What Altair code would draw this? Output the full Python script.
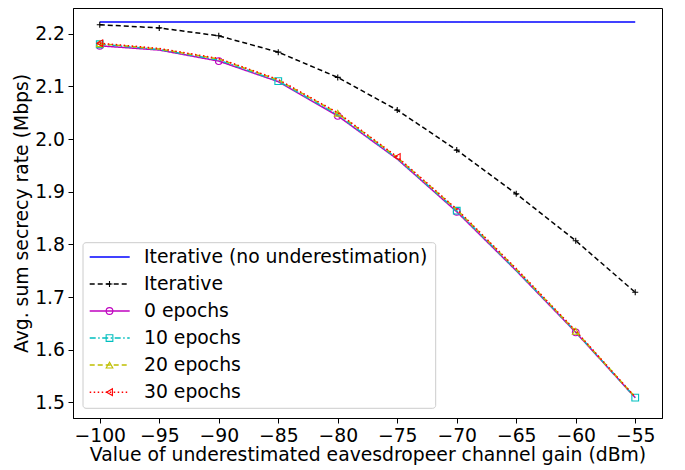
import altair as alt
import pandas as pd

# ---- data ----
gain_dbm = [-100, -95, -90, -85, -80, -75, -70, -65, -60, -55]
iter_no_under = [2.222] * 10
iterative = [2.217, 2.211, 2.196, 2.165, 2.117, 2.055, 1.979, 1.896, 1.807, 1.709]
ep0 = [2.177, 2.169, 2.148, 2.109, 2.044, 1.962, 1.862, 1.750, 1.633, 1.509]
ep10 = [2.180, 2.170, 2.150, 2.110, 2.046, 1.963, 1.864, 1.751, 1.634, 1.509]
ep20 = [2.181, 2.171, 2.152, 2.112, 2.049, 1.965, 1.866, 1.753, 1.635, 1.510]
ep30 = [2.182, 2.172, 2.153, 2.113, 2.050, 1.966, 1.867, 1.754, 1.636, 1.510]

series_names = ["Iterative (no underestimation)", "Iterative", "0 epochs",
                "10 epochs", "20 epochs", "30 epochs"]
series_values = [iter_no_under, iterative, ep0, ep10, ep20, ep30]
x_ticks = [-100, -95, -90, -85, -80, -75, -70, -65, -60, -55]
y_ticks = [1.5, 1.6, 1.7, 1.8, 1.9, 2.0, 2.1, 2.2]

# ---- styles ----
PLUS = "M-1,0H1M0,-1V1"
styles = [
    dict(color="#0000ff", dash=[1, 0], shape=None, every=0),
    dict(color="#000000", dash=[5, 3], shape=PLUS, every=1),
    dict(color="#bf00bf", dash=[1, 0], shape="circle", every=2),
    dict(color="#00bfbf", dash=[6, 2.5, 1.5, 2.5], shape="square", every=3),
    dict(color="#bfbf00", dash=[5, 3], shape="triangle-up", every=4),
    dict(color="#ff0000", dash=[1.5, 2.5], shape="triangle-left", every=5),
]

FONT = "DejaVu Sans"
FS = 18.8
W, H = 589, 410

xscale = alt.Scale(domain=[-102.25, -52.75], nice=False, zero=False)
yscale = alt.Scale(domain=[1.4704, 2.2488], nice=False, zero=False)

x_enc = alt.X("x:Q", scale=xscale,
              axis=alt.Axis(values=x_ticks, format="d", grid=False,
                            title="Value of underestimated eavesdropeer channel gain (dBm)",
                            labelPadding=3, titlePadding=1, tickSize=5))
y_enc = alt.Y("y:Q", scale=yscale,
              axis=alt.Axis(values=y_ticks, format=".1f", grid=False,
                            title="Avg. sum secrecy rate (Mbps)",
                            labelPadding=3.5, titlePadding=3, tickSize=5))

layers = []
for i, (name, vals, st) in enumerate(zip(series_names, series_values, styles)):
    df = pd.DataFrame({"x": gain_dbm, "y": vals, "idx": range(len(vals))})
    line = alt.Chart(df).mark_line(color=st["color"], strokeDash=st["dash"],
                                   strokeWidth=1.5).encode(x=x_enc, y=y_enc)
    layers.append(line)
    if st["shape"] is not None:
        mdf = df[df["idx"] % st["every"] == 0]
        size = 36 if st["shape"] == PLUS else 45
        pts = alt.Chart(mdf).mark_point(shape=st["shape"], color=st["color"],
                                        filled=False, strokeWidth=1.1,
                                        size=size, opacity=1).encode(x=x_enc, y=y_enc)
        layers.append(pts)

# ---- legend (drawn manually) ----
box = alt.Chart(pd.DataFrame({"a": [0]})).mark_rect(
    fill="white", fillOpacity=0.8, stroke="#cccccc", strokeWidth=1, cornerRadius=3
).encode(x=alt.value(10), x2=alt.value(362.7), y=alt.value(234.7), y2=alt.value(400.3))
layers.append(box)

row0, step = 248.9, 27.05
for i, (name, st) in enumerate(zip(series_names, styles)):
    yy = row0 + step * i
    one = pd.DataFrame({"t": [name]})
    layers.append(alt.Chart(one).mark_rule(color=st["color"], strokeDash=st["dash"],
                                           strokeWidth=1.5).encode(
        x=alt.value(16.7), x2=alt.value(56.7), y=alt.value(yy)))
    if st["shape"] is not None:
        size = 36 if st["shape"] == PLUS else 45
        layers.append(alt.Chart(one).mark_point(shape=st["shape"], color=st["color"],
                                                filled=False, strokeWidth=1.1, size=size,
                                                opacity=1).encode(
            x=alt.value(36.5), y=alt.value(yy)))
    layers.append(alt.Chart(one).mark_text(align="left", baseline="middle", font=FONT,
                                           fontSize=FS, color="black").encode(
        x=alt.value(71), y=alt.value(yy), text="t:N"))

chart = alt.layer(*layers).properties(
    width=W, height=H,
    background="white",
    autosize=alt.AutoSizeParams(type="none"),
    padding={"left": 65, "top": 0, "right": 15, "bottom": 52},
).configure_view(
    stroke="black", strokeWidth=1
).configure_axis(
    labelFont=FONT, titleFont=FONT, labelFontSize=FS, titleFontSize=FS,
    titleFontWeight="normal", labelColor="black", titleColor="black",
    domainColor="black", tickColor="black", domainWidth=1, tickWidth=1,
)

chart.save("out.html", embed_options={"renderer": "svg", "actions": False})
